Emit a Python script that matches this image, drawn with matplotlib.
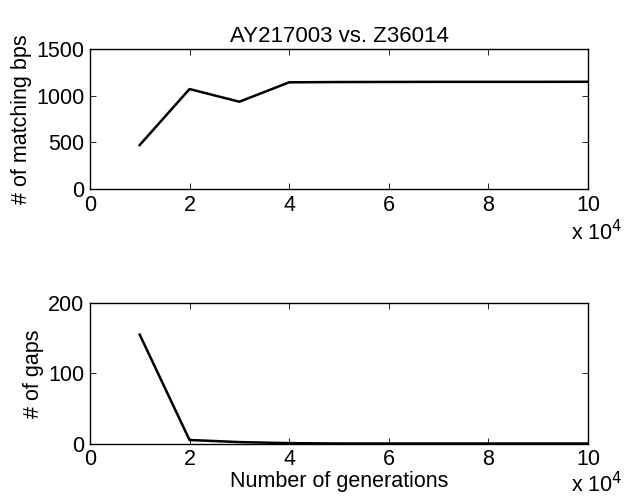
import matplotlib.pyplot as plt
import numpy as np

plt.rcParams['font.family'] = ['Liberation Sans', 'DejaVu Sans']
plt.rcParams['font.size'] = 15.5

# generations (in units of 10^4)
generations = [1, 2, 3, 4, 5, 6, 7, 8, 9, 10]
matching_bps = [471, 1071, 935, 1143, 1146, 1147, 1148, 1148, 1148, 1149]
gaps = [155, 5, 2, 0.5, 0, 0, 0, 0, 0, 0]

fig = plt.figure(figsize=(6.33, 5.0), dpi=100)
ax1 = fig.add_axes([0.142, 0.622, 0.787, 0.280])
ax2 = fig.add_axes([0.142, 0.113, 0.787, 0.281])

def style(ax):
    ax.tick_params(direction='in', top=True, right=True, length=4, width=0.6, pad=4)
    for s in ax.spines.values():
        s.set_linewidth(1.0)
    ax.set_xlim(0, 10)
    ax.set_xticks([0, 2, 4, 6, 8, 10])

ax1.plot(generations, matching_bps, color='black', lw=1.8)
style(ax1)
ax1.set_ylim(0, 1500)
ax1.set_yticks([0, 500, 1000, 1500])
ax1.set_ylabel('# of matching bps', labelpad=3)
ax1.set_title('AY217003 vs. Z36014', fontsize=16, pad=5)
fig.text(0.983, 0.534, r'x 10$^{4}$', ha='right', va='center')

ax2.plot(generations, gaps, color='black', lw=1.8)
style(ax2)
ax2.set_ylim(0, 200)
ax2.set_yticks([0, 100, 200])
ax2.set_ylabel('# of gaps', labelpad=3)
ax2.set_xlabel('Number of generations', labelpad=1)
fig.text(0.983, 0.006, r'x 10$^{4}$', ha='right', va='bottom')

fig.savefig('out.png', dpi=100)
